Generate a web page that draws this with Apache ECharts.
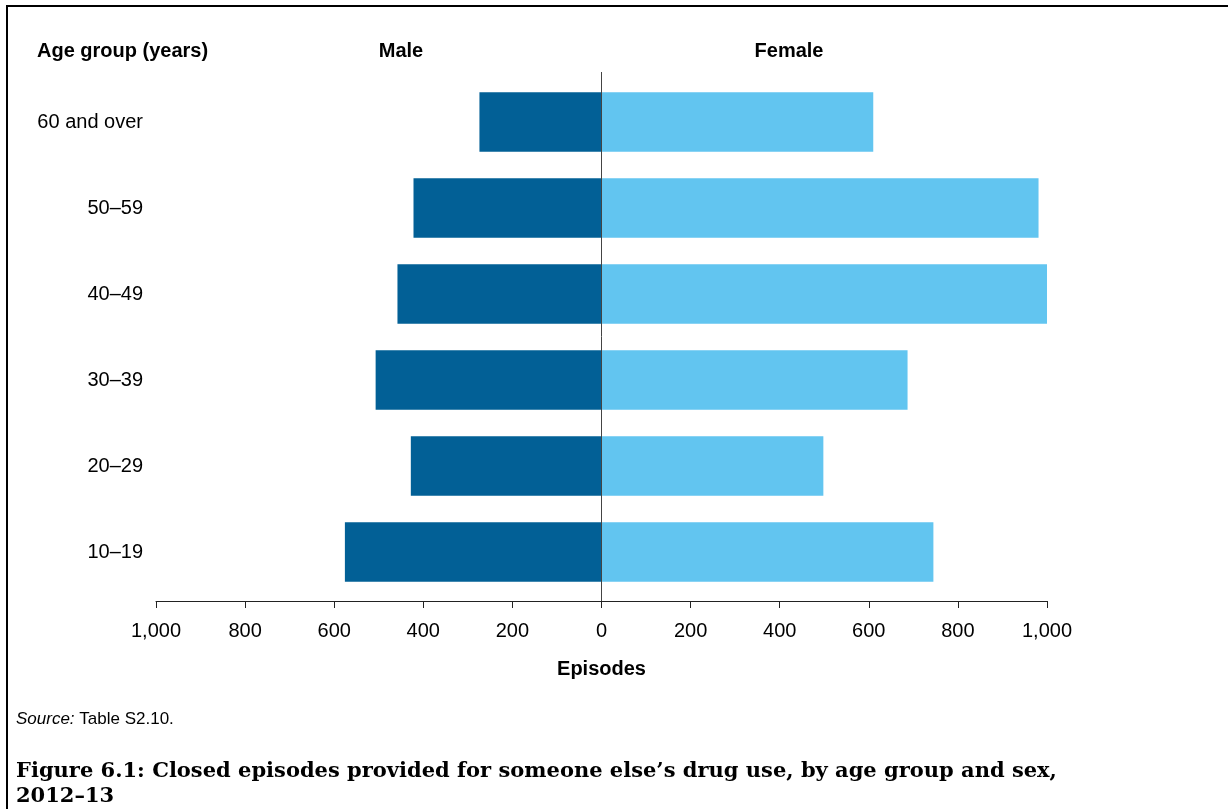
<!DOCTYPE html>
<html>
<head>
<meta charset="utf-8">
<script src="https://cdn.jsdelivr.net/npm/echarts@6/dist/echarts.min.js"></script>
<style>
html,body{margin:0;padding:0;background:#fff;}
#chart{width:1228px;height:809px;}
</style>
</head>
<body>
<div id="chart"></div>
<script>
// Data (bottom to top)
const categories = ['10–19', '20–29', '30–39', '40–49', '50–59', '60 and over'];
const maleValues = [576, 428, 507, 458, 422, 274];
const femaleValues = [745, 498, 687, 1000, 981, 610];
const xTicks = { min: -1000, max: 1000, interval: 200 };

const chart = echarts.init(document.getElementById('chart'));
const sans = 'Liberation Sans, Arial, sans-serif';
const fmt = v => Math.abs(v).toLocaleString('en-US');

chart.setOption({
  animation: false,
  backgroundColor: '#fff',
  grid: { left: 156, right: 181, top: 79, height: 516, containLabel: false },
  xAxis: {
    type: 'value',
    min: xTicks.min, max: xTicks.max, interval: xTicks.interval,
    offset: 6,
    axisLine: { show: true, lineStyle: { color: '#222', width: 1 } },
    axisTick: { show: true, length: 7, lineStyle: { color: '#222' } },
    splitLine: { show: false },
    axisLabel: { formatter: fmt, fontFamily: sans, fontSize: 20, color: '#000', margin: 20 },
    name: 'Episodes', nameLocation: 'middle', nameGap: 58,
    nameTextStyle: { fontFamily: sans, fontSize: 20, fontWeight: 'bold', color: '#000' }
  },
  yAxis: {
    type: 'category', data: categories,
    axisLine: { show: false }, axisTick: { show: false },
    axisLabel: { fontFamily: sans, fontSize: 20, color: '#000', margin: 13 }
  },
  series: [
    { name: 'Male', type: 'bar', stack: 'pop', barCategoryGap: '31%',
      itemStyle: { color: '#026096' }, data: maleValues.map(v => -v) },
    { name: 'Female', type: 'bar', stack: 'pop', barCategoryGap: '31%',
      itemStyle: { color: '#62C5F0' }, data: femaleValues }
  ]
});

const x0 = chart.convertToPixel({ xAxisIndex: 0 }, 0);
const head = 'bold 20px Liberation Sans, Arial, sans-serif';
chart.setOption({
  graphic: [
    { type: 'rect', shape: { x: 7, y: 6, width: 1240, height: 830 }, style: { fill: 'none', stroke: '#000', lineWidth: 2 }, silent: true },
    { type: 'line', shape: { x1: x0, y1: 72, x2: x0, y2: 601 }, style: { stroke: '#444', lineWidth: 1 }, z: 10 },
    { type: 'text', x: 37, y: 51, style: { text: 'Age group (years)', font: head, fill: '#000', textAlign: 'left', textVerticalAlign: 'middle' } },
    { type: 'text', x: 401, y: 51, style: { text: 'Male', font: head, fill: '#000', textAlign: 'center', textVerticalAlign: 'middle' } },
    { type: 'text', x: 789, y: 51, style: { text: 'Female', font: head, fill: '#000', textAlign: 'center', textVerticalAlign: 'middle' } },
    { type: 'text', x: 16, y: 719, style: {
        text: '{i|Source:} Table S2.10.',
        rich: { i: { fontStyle: 'italic', fontFamily: sans, fontSize: 17, fill: '#000' } },
        font: '17px Liberation Sans, Arial, sans-serif', fill: '#000', textVerticalAlign: 'middle' } },
    { type: 'text', x: 16, y: 759, style: {
        text: 'Figure 6.1: Closed episodes provided for someone else’s drug use, by age group and sex,\n2012–13',
        font: 'bold 21px DejaVu Serif, serif', fill: '#000', lineHeight: 25 } }
  ]
});
</script>
</body>
</html>
